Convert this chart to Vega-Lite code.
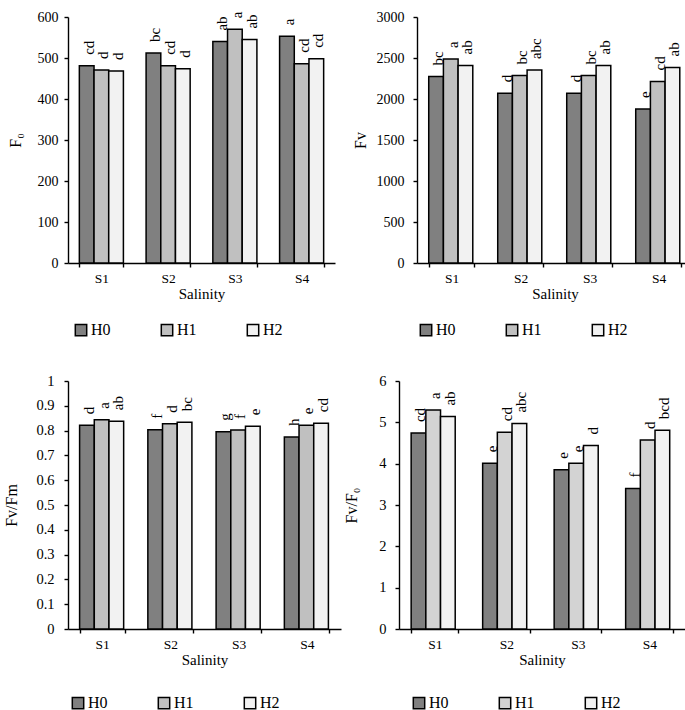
{
 "$schema": "https://vega.github.io/schema/vega-lite/v6.json",
 "padding": {"left": 3, "top": 10, "right": 0, "bottom": 0},
 "background": "white",
 "config": {
   "font": "Liberation Serif",
   "view": {"stroke": null},
   "axis": {"labelFont": "Liberation Serif", "titleFont": "Liberation Serif", "labelFontSize": 14, "titleFontSize": 15, "titleFontWeight": "normal", "labelColor": "black", "titleColor": "black", "domainColor": "black", "tickColor": "black", "grid": false, "tickSize": 4, "domainWidth": 1.4, "tickWidth": 1.4},
   "axisX": {"labelFontSize": 13.5, "labelPadding": 4, "titlePadding": 2},
   "axisY": {"titleFontSize": 16},
   "legend": {"orient": "none", "direction": "horizontal", "title": null, "symbolType": "square", "symbolSize": 130, "symbolStrokeColor": "black", "symbolStrokeWidth": 1.4, "symbolOpacity": 1, "labelFont": "Liberation Serif", "labelFontSize": 16, "labelColor": "black", "columnPadding": 47, "labelOffset": 2},
   "text": {"font": "Liberation Serif", "fontSize": 15, "color": "black"},
   "bar": {"stroke": "black", "strokeWidth": 1.5}
 },
 "datasets": {
   "f0": [
     {"S": "S1", "H": "H0", "v": 481, "lab": "cd"}, {"S": "S1", "H": "H1", "v": 471, "lab": "d"}, {"S": "S1", "H": "H2", "v": 468, "lab": "d"},
     {"S": "S2", "H": "H0", "v": 512, "lab": "bc"}, {"S": "S2", "H": "H1", "v": 481, "lab": "cd"}, {"S": "S2", "H": "H2", "v": 474, "lab": "d"},
     {"S": "S3", "H": "H0", "v": 540, "lab": "ab"}, {"S": "S3", "H": "H1", "v": 570, "lab": "a"}, {"S": "S3", "H": "H2", "v": 545, "lab": "ab"},
     {"S": "S4", "H": "H0", "v": 553, "lab": "a"}, {"S": "S4", "H": "H1", "v": 486, "lab": "cd"}, {"S": "S4", "H": "H2", "v": 498, "lab": "cd"}
   ],
   "fv": [
     {"S": "S1", "H": "H0", "v": 2274, "lab": "bc"}, {"S": "S1", "H": "H1", "v": 2489, "lab": "a"}, {"S": "S1", "H": "H2", "v": 2409, "lab": "ab"},
     {"S": "S2", "H": "H0", "v": 2070, "lab": "d"}, {"S": "S2", "H": "H1", "v": 2286, "lab": "bc"}, {"S": "S2", "H": "H2", "v": 2353, "lab": "abc"},
     {"S": "S3", "H": "H0", "v": 2070, "lab": "d"}, {"S": "S3", "H": "H1", "v": 2286, "lab": "bc"}, {"S": "S3", "H": "H2", "v": 2409, "lab": "ab"},
     {"S": "S4", "H": "H0", "v": 1879, "lab": "e"}, {"S": "S4", "H": "H1", "v": 2214, "lab": "cd"}, {"S": "S4", "H": "H2", "v": 2385, "lab": "ab"}
   ],
   "fvfm": [
     {"S": "S1", "H": "H0", "v": 0.822, "lab": "d"}, {"S": "S1", "H": "H1", "v": 0.844, "lab": "a"}, {"S": "S1", "H": "H2", "v": 0.838, "lab": "ab"},
     {"S": "S2", "H": "H0", "v": 0.803, "lab": "f"}, {"S": "S2", "H": "H1", "v": 0.828, "lab": "d"}, {"S": "S2", "H": "H2", "v": 0.834, "lab": "bc"},
     {"S": "S3", "H": "H0", "v": 0.795, "lab": "g"}, {"S": "S3", "H": "H1", "v": 0.802, "lab": "f"}, {"S": "S3", "H": "H2", "v": 0.818, "lab": "e"},
     {"S": "S4", "H": "H0", "v": 0.774, "lab": "h"}, {"S": "S4", "H": "H1", "v": 0.822, "lab": "e"}, {"S": "S4", "H": "H2", "v": 0.830, "lab": "cd"}
   ],
   "fvf0": [
     {"S": "S1", "H": "H0", "v": 4.74, "lab": "cd"}, {"S": "S1", "H": "H1", "v": 5.30, "lab": "a"}, {"S": "S1", "H": "H2", "v": 5.14, "lab": "ab"},
     {"S": "S2", "H": "H0", "v": 4.01, "lab": "e"}, {"S": "S2", "H": "H1", "v": 4.76, "lab": "cd"}, {"S": "S2", "H": "H2", "v": 4.97, "lab": "abc"},
     {"S": "S3", "H": "H0", "v": 3.85, "lab": "e"}, {"S": "S3", "H": "H1", "v": 4.01, "lab": "e"}, {"S": "S3", "H": "H2", "v": 4.44, "lab": "d"},
     {"S": "S4", "H": "H0", "v": 3.40, "lab": "f"}, {"S": "S4", "H": "H1", "v": 4.57, "lab": "d"}, {"S": "S4", "H": "H2", "v": 4.81, "lab": "bcd"}
   ]
 },
 "resolve": {"scale": {"color": "independent"}, "legend": {"color": "independent"}},
 "spacing": 34,
 "vconcat": [
  {
   "resolve": {"scale": {"color": "independent"}, "legend": {"color": "independent"}},
   "spacing": 17,
   "hconcat": [
    {
     "width": 267, "height": 246,
     "data": {"name": "f0"},
     "encoding": {
       "x": {"field": "S", "type": "nominal", "scale": {"paddingInner": 0.34, "paddingOuter": 0.17}, "axis": {"title": "Salinity", "labelAngle": 0, "tickBand": "extent"}},
       "xOffset": {"field": "H", "type": "nominal"},
       "y": {"field": "v", "type": "quantitative", "scale": {"domain": [0, 600]}, "axis": {"title": "F₀", "values": [0, 100, 200, 300, 400, 500, 600], "labelPadding": 6, "titlePadding": 14}}
     },
     "layer": [
       {"mark": {"type": "bar"}, "encoding": {"color": {"field": "H", "type": "nominal", "scale": {"range": ["#808080", "#c0c0c0", "#f2f2f2"]}, "legend": {"legendX": 5, "legendY": 305}}}},
       {"mark": {"type": "text", "angle": 270, "align": "left", "baseline": "middle", "dx": 11, "dy": 2}, "encoding": {"text": {"field": "lab"}}}
     ]
    },
    {
     "width": 276, "height": 246,
     "data": {"name": "fv"},
     "encoding": {
       "x": {"field": "S", "type": "nominal", "scale": {"paddingInner": 0.34, "paddingOuter": 0.17}, "axis": {"title": "Salinity", "labelAngle": 0, "tickBand": "extent"}},
       "xOffset": {"field": "H", "type": "nominal"},
       "y": {"field": "v", "type": "quantitative", "scale": {"domain": [0, 3000]}, "axis": {"title": "Fv", "values": [0, 500, 1000, 1500, 2000, 2500, 3000], "format": "d", "labelPadding": 9, "titlePadding": 8}}
     },
     "layer": [
       {"mark": {"type": "bar"}, "encoding": {"color": {"field": "H", "type": "nominal", "scale": {"range": ["#808080", "#c0c0c0", "#f2f2f2"]}, "legend": {"legendX": 1, "legendY": 305}}}},
       {"mark": {"type": "text", "angle": 270, "align": "left", "baseline": "middle", "dx": 11, "dy": 2}, "encoding": {"text": {"field": "lab"}}}
     ]
    }
   ]
  },
  {
   "resolve": {"scale": {"color": "independent"}, "legend": {"color": "independent"}},
   "spacing": 2,
   "hconcat": [
    {
     "width": 273, "height": 248,
     "data": {"name": "fvfm"},
     "encoding": {
       "x": {"field": "S", "type": "nominal", "scale": {"paddingInner": 0.34, "paddingOuter": 0.17}, "axis": {"title": "Salinity", "labelAngle": 0, "tickBand": "extent"}},
       "xOffset": {"field": "H", "type": "nominal"},
       "y": {"field": "v", "type": "quantitative", "scale": {"domain": [0, 1]}, "axis": {"title": "Fv/Fm", "values": [0, 0.1, 0.2, 0.3, 0.4, 0.5, 0.6, 0.7, 0.8, 0.9, 1], "format": "~g", "labelFontSize": 14.5, "labelPadding": 10, "titlePadding": 16}}
     },
     "layer": [
       {"mark": {"type": "bar"}, "encoding": {"color": {"field": "H", "type": "nominal", "scale": {"range": ["#808080", "#c0c0c0", "#f2f2f2"]}, "legend": {"legendX": 2, "legendY": 314}}}},
       {"mark": {"type": "text", "angle": 270, "align": "left", "baseline": "middle", "dx": 11, "dy": 2}, "encoding": {"text": {"field": "lab"}}}
     ]
    },
    {
     "width": 286, "height": 248,
     "data": {"name": "fvf0"},
     "encoding": {
       "x": {"field": "S", "type": "nominal", "scale": {"paddingInner": 0.34, "paddingOuter": 0.17}, "axis": {"title": "Salinity", "labelAngle": 0, "tickBand": "extent"}},
       "xOffset": {"field": "H", "type": "nominal"},
       "y": {"field": "v", "type": "quantitative", "scale": {"domain": [0, 6]}, "axis": {"title": "Fv/F₀", "values": [0, 1, 2, 3, 4, 5, 6], "labelFontSize": 14.5, "labelPadding": 9, "titlePadding": 19}}
     },
     "layer": [
       {"mark": {"type": "bar"}, "encoding": {"color": {"field": "H", "type": "nominal", "scale": {"range": ["#808080", "#d3d3d3", "#f2f2f2"]}, "legend": {"legendX": 12, "legendY": 314}}}},
       {"mark": {"type": "text", "angle": 270, "align": "left", "baseline": "middle", "dx": 11, "dy": 2}, "encoding": {"text": {"field": "lab"}}}
     ]
    }
   ]
  }
 ]
}
